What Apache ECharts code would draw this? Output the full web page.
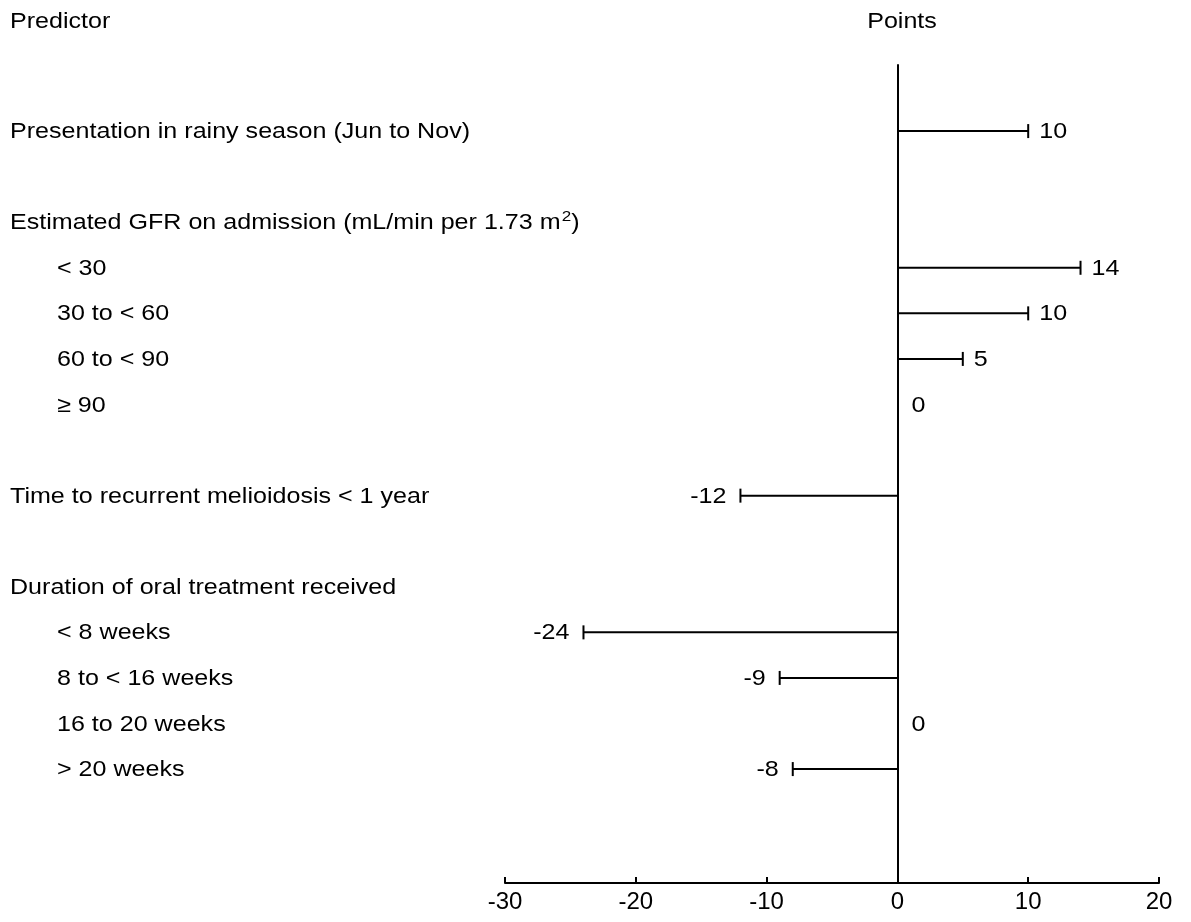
<!DOCTYPE html>
<html>
<head>
<meta charset="utf-8">
<script src="https://cdn.jsdelivr.net/npm/echarts@6/dist/echarts.min.js"></script>
<style>html,body{margin:0;padding:0;background:#fff}#chart{width:1191px;height:922px}</style>
</head>
<body>
<div id="chart"></div>
<script>
const rowLabels = [
  'Presentation in rainy season (Jun to Nov)',
  'Estimated GFR on admission (mL/min per 1.73 m{sup|2})',
  '< 30',
  '30 to < 60',
  '60 to < 90',
  '\u2265 90',
  'Time to recurrent melioidosis < 1 year',
  'Duration of oral treatment received',
  '< 8 weeks',
  '8 to < 16 weeks',
  '16 to 20 weeks',
  '> 20 weeks'
];
const rowIndex = [0, 2, 3, 4, 5, 6, 8, 10, 11, 12, 13, 14];
const rowLevel = [0, 0, 1, 1, 1, 1, 0, 0, 1, 1, 1, 1];
const points = [10, null, 14, 10, 5, 0, -12, null, -24, -9, 0, -8];
const xTicks = [-30, -20, -10, 0, 10, 20];

const FONT = '"Liberation Sans", Arial, sans-serif';
const FS = 22;
const SX = 1.14;

const chart = echarts.init(document.getElementById('chart'));
const data = rowLabels.map((l, i) => [points[i] === null ? 0 : points[i], rowIndex[i], i]);

function txt(x, y, text, align, extra) {
  return Object.assign({
    type: 'text', x: x, y: y, scaleX: SX,
    style: {
      text: text, font: FS + 'px ' + FONT, fill: '#000',
      verticalAlign: 'middle', align: align || 'left',
      rich: { sup: { fontSize: 15, verticalAlign: 'top', padding: [0, 0, 13, 1], fontFamily: FONT, fill: '#000' } }
    }
  }, extra || {});
}

function renderItem(params, api) {
  const i = api.value(2);
  const v = points[i];
  const base = api.coord([0, api.value(1)]);
  const y = base[1];
  const children = [txt(rowLevel[i] ? 57 : 10, y + 1, rowLabels[i])];
  if (v !== null) {
    const end = api.coord([v, api.value(1)]);
    if (v !== 0) {
      children.push({ type: 'line', shape: { x1: base[0], y1: y, x2: end[0], y2: y }, style: { stroke: '#000', lineWidth: 2 } });
      children.push({ type: 'line', shape: { x1: end[0], y1: y - 7, x2: end[0], y2: y + 7 }, style: { stroke: '#000', lineWidth: 2 } });
    }
    const right = v >= 0;
    children.push(txt(right ? end[0] + (v === 0 ? 14 : 11) : end[0] - 14, y + 1, String(v), right ? 'left' : 'right'));
  }
  return { type: 'group', children: children };
}

chart.setOption({
  animation: false,
  backgroundColor: '#fff',
  grid: { left: 505, right: 32, top: 65, bottom: 39 },
  graphic: [
    { type: 'text', x: 10, y: 22, scaleX: SX, style: { text: 'Predictor', font: FS + 'px ' + FONT, fill: '#000', verticalAlign: 'middle', align: 'left' } },
    { type: 'text', x: 902, y: 22, scaleX: SX, style: { text: 'Points', font: FS + 'px ' + FONT, fill: '#000', verticalAlign: 'middle', align: 'center' } }
  ],
  xAxis: {
    type: 'value', min: -30, max: 20, interval: 10,
    axisLine: { onZero: false, lineStyle: { color: '#000', width: 2 } },
    axisTick: { inside: true, length: 6, lineStyle: { color: '#000', width: 2 } },
    axisLabel: { color: '#000', fontFamily: FONT, fontSize: 24, margin: 7,
      formatter: v => xTicks.includes(v) ? String(v) : '' },
    splitLine: { show: false }
  },
  yAxis: {
    type: 'value', min: -1.45, max: 16.5, inverse: true,
    axisLine: { show: true, onZero: true, lineStyle: { color: '#000', width: 2 } },
    axisTick: { show: false }, axisLabel: { show: false }, splitLine: { show: false }
  },
  series: [{ type: 'custom', renderItem: renderItem, data: data, clip: false }]
});
</script>
</body>
</html>
